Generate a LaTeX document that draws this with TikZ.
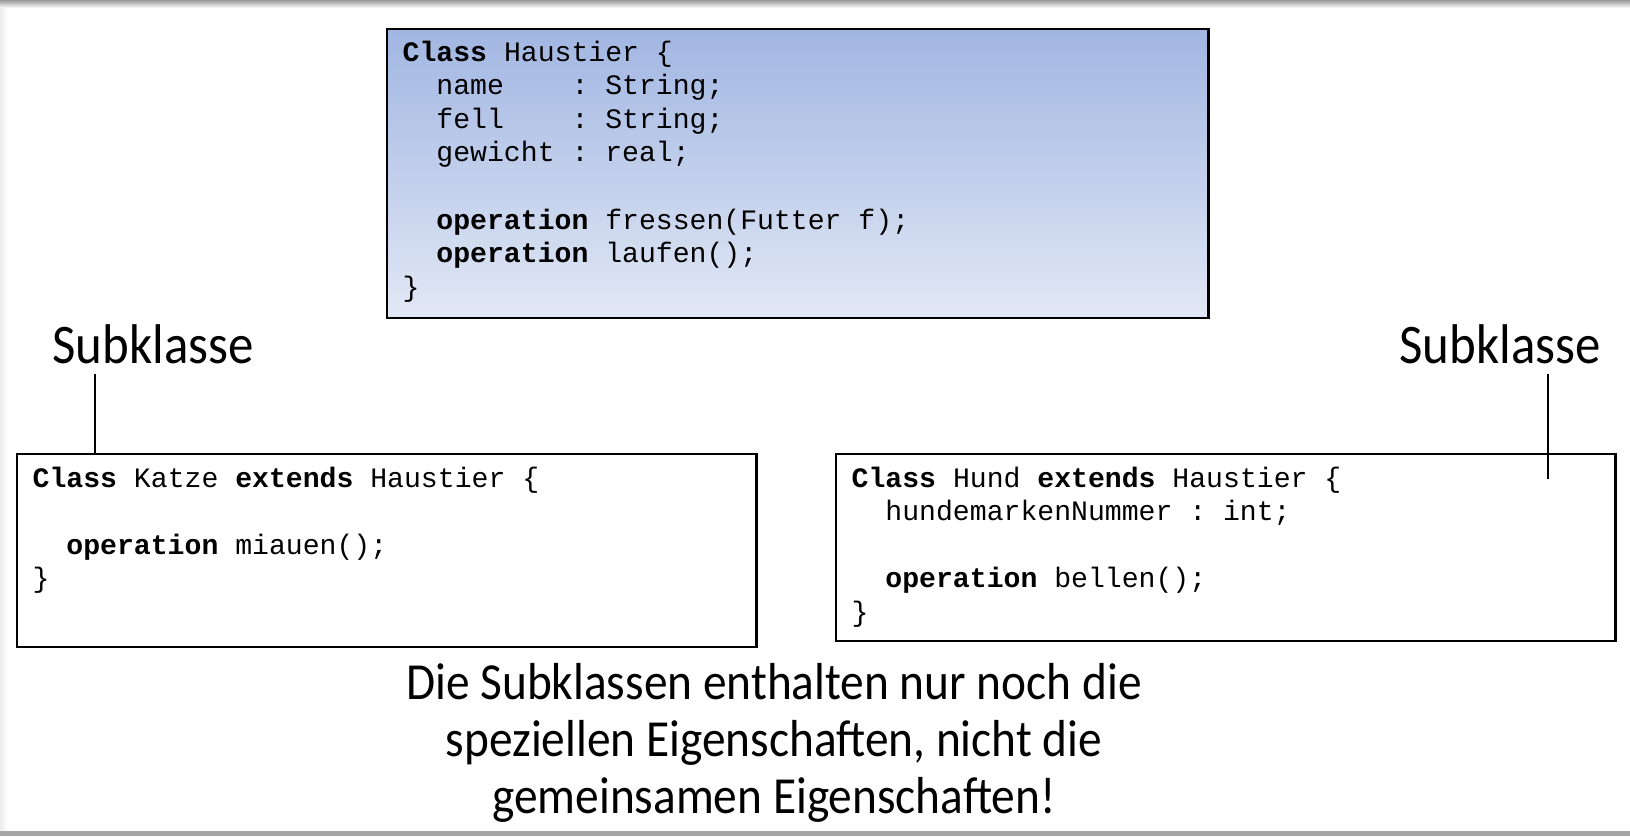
\documentclass[tikz,border=0pt]{standalone}
\usepackage{fontspec}
\setmonofont{Liberation Mono}
\newfontfamily\slidefont[FakeStretch=0.91]{Carlito}
\usetikzlibrary{positioning,calc}

\definecolor{haustiertop}{RGB}{161,182,226}
\definecolor{haustierbot}{RGB}{226,232,245}
\newcommand{\kw}[1]{\textbf{#1}}
\newcommand{\ind}{\ \ }

\begin{document}
\begin{tikzpicture}[x=0.01cm,y=-0.01cm,
  class box/.style={draw,semithick,rectangle,anchor=north west,inner sep=0pt},
  code/.style={font=\ttfamily\fontsize{8}{9.56}\selectfont,align=left,
    anchor=north west,inner sep=0pt},
  slide label/.style={font=\slidefont\fontsize{15.9}{18}\selectfont},
  note/.style={font=\slidefont\fontsize{14.8}{16.2}\selectfont,align=center}]

  % slide frame
  \shade[top color=gray!80,bottom color=white] (0,0) rectangle (1630,8);
  \shade[left color=gray!15,right color=white] (0,8) rectangle (8,830);
  \fill[gray!70] (0,831) rectangle (1630,836);

  % superclass
  \node[class box,top color=haustiertop,bottom color=haustierbot,
    minimum width=8.21cm,minimum height=2.89cm] (haustier) at (386,28) {};
  \node[code] (haustiercode) at (402,40) {%
    \kw{Class} Haustier \{\\
    \ind name\ \ \ \ : String;\\
    \ind fell\ \ \ \ : String;\\
    \ind gewicht : real;\\
    \strut\\
    \ind\kw{operation} fressen(Futter f);\\
    \ind\kw{operation} laufen();\\
    \}};

  % subclasses
  \node[class box,minimum width=7.39cm,minimum height=1.93cm] (katze) at (16,453) {};
  \node[code] (katzecode) at (32,466) {%
    \kw{Class} Katze \kw{extends} Haustier \{\\
    \strut\\
    \ind\kw{operation} miauen();\\
    \}};

  \node[class box,minimum width=7.79cm,minimum height=1.87cm] (hund) at (835,453) {};
  \node[code] (hundcode) at (851,466) {%
    \kw{Class} Hund \kw{extends} Haustier \{\\
    \ind hundemarkenNummer : int;\\
    \strut\\
    \ind\kw{operation} bellen();\\
    \}};

  % labels
  \node[slide label] (katzelabel) at (153,344) {Subklasse};
  \node[slide label] (hundlabel) at (1500,344) {Subklasse};
  \coordinate (katzetip) at (95,374);
  \coordinate (hundtip) at (1548,374);
  \coordinate (hundend) at (1548,479);
  \draw[semithick] (katzetip) -- (katzetip |- katze.north);
  \draw[semithick] (hundtip) -- (hundend);

  \node[note] (fazit) at (774,743) {Die Subklassen enthalten nur noch die\\
    speziellen Eigenschaften, nicht die\\
    gemeinsamen Eigenschaften!};

  \pgfresetboundingbox
  \useasboundingbox (0,0) rectangle (1630,836);
\end{tikzpicture}
\end{document}
